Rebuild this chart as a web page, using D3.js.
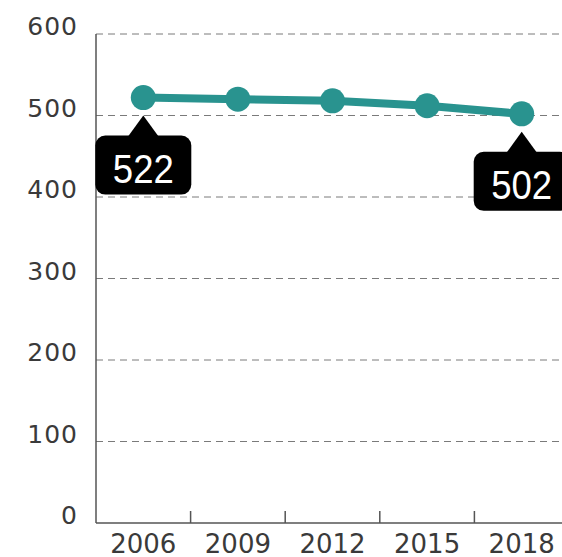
<!DOCTYPE html>
<html>
<head>
<meta charset="utf-8">
<script src="https://cdn.jsdelivr.net/npm/d3@7"></script>
<style>
    body { margin: 0; background: #fff; }
    svg { display: block; }
</style>
</head>
<body>
<svg></svg>
<script>
// data
const years = ['2006', '2009', '2012', '2015', '2018'];
const scores = [522, 520, 518, 512, 502];
const yTicks = [0, 100, 200, 300, 400, 500, 600];
const callouts = [0, 4]; // which points get a label box

const width = 562;
const height = 557;
const padLeft = 96;
const padTop = 34;
const axisY = 523;
const teal = '#29938f';

let svg = d3.select('svg')
    .attr('width', width)
    .attr('height', height)

let xScale = d3.scaleBand()
    .domain(years)
    .range([padLeft, padLeft + 5 * 94.6])

let yScale = d3.scaleLinear()
    .domain([0, 600])
    .range([axisY, padTop])

let cx = (i) => xScale(years[i]) + xScale.bandwidth() / 2

// dashed grid lines
svg.append('g')
    .selectAll('line')
    .data(yTicks.filter(t => t > 0))
    .enter()
    .append('line')
    .attr('x1', padLeft)
    .attr('x2', width)
    .attr('y1', d => yScale(d))
    .attr('y2', d => yScale(d))
    .attr('stroke', '#7a7a7a')
    .attr('stroke-width', 1)
    .attr('stroke-dasharray', '7,5')

// y axis labels
svg.append('g')
    .selectAll('text')
    .data(yTicks)
    .enter()
    .append('text')
    .attr('x', 78)
    .attr('y', d => yScale(d) + 1)
    .attr('text-anchor', 'end')
    .style('font-family', 'DejaVu Sans')
    .style('font-size', '25px')
    .style('letter-spacing', '1px')
    .style('fill', '#3a3a3a')
    .text(d => d)

// x axis with ticks between the years
let xAxis = d3.axisBottom(xScale).tickSize(0).tickPadding(12)
let gx = svg.append('g')
    .attr('transform', 'translate(0,' + axisY + ')')
    .call(xAxis)
gx.select('.domain').remove()
gx.selectAll('text')
    .style('font-family', 'DejaVu Sans')
    .style('font-size', '26px')
    .style('fill', '#3a3a3a')

svg.append('g')
    .selectAll('line')
    .data(years.slice(1))
    .enter()
    .append('line')
    .attr('x1', d => xScale(d))
    .attr('x2', d => xScale(d))
    .attr('y1', axisY)
    .attr('y2', axisY - 12)
    .attr('stroke', '#555')
    .attr('stroke-width', 1.5)

// axis lines
svg.append('line')
    .attr('x1', padLeft).attr('x2', width)
    .attr('y1', axisY).attr('y2', axisY)
    .attr('stroke', '#555').attr('stroke-width', 1.5)
svg.append('line')
    .attr('x1', padLeft).attr('x2', padLeft)
    .attr('y1', padTop).attr('y2', axisY)
    .attr('stroke', '#555').attr('stroke-width', 1.5)

// the line and its dots
let line = d3.line()
    .x((d, i) => cx(i))
    .y(d => yScale(d))

svg.append('path')
    .datum(scores)
    .attr('d', line)
    .attr('fill', 'none')
    .attr('stroke', teal)
    .attr('stroke-width', 8)

svg.selectAll('circle')
    .data(scores)
    .enter()
    .append('circle')
    .attr('cx', (d, i) => cx(i))
    .attr('cy', d => yScale(d))
    .attr('r', 12.5)
    .attr('fill', teal)

// label boxes under the first and last point
let boxes = svg.append('g')
    .selectAll('g')
    .data(callouts)
    .enter()
    .append('g')
    .attr('transform', i => 'translate(' + cx(i) + ',' + yScale(scores[i]) + ')')

boxes.append('path')
    .attr('d', 'M0,18 L-16,40 L16,40 Z')
    .attr('fill', '#000')
boxes.append('rect')
    .attr('x', -48)
    .attr('y', 38)
    .attr('width', 96)
    .attr('height', 59)
    .attr('rx', 10)
    .attr('fill', '#000')
boxes.append('text')
    .attr('x', 0)
    .attr('y', 85)
    .attr('text-anchor', 'middle')
    .attr('textLength', 61)
    .attr('lengthAdjust', 'spacingAndGlyphs')
    .style('font-family', 'Liberation Sans')
    .style('font-size', '41px')
    .style('fill', '#fff')
    .text(i => scores[i])
</script>
</body>
</html>
